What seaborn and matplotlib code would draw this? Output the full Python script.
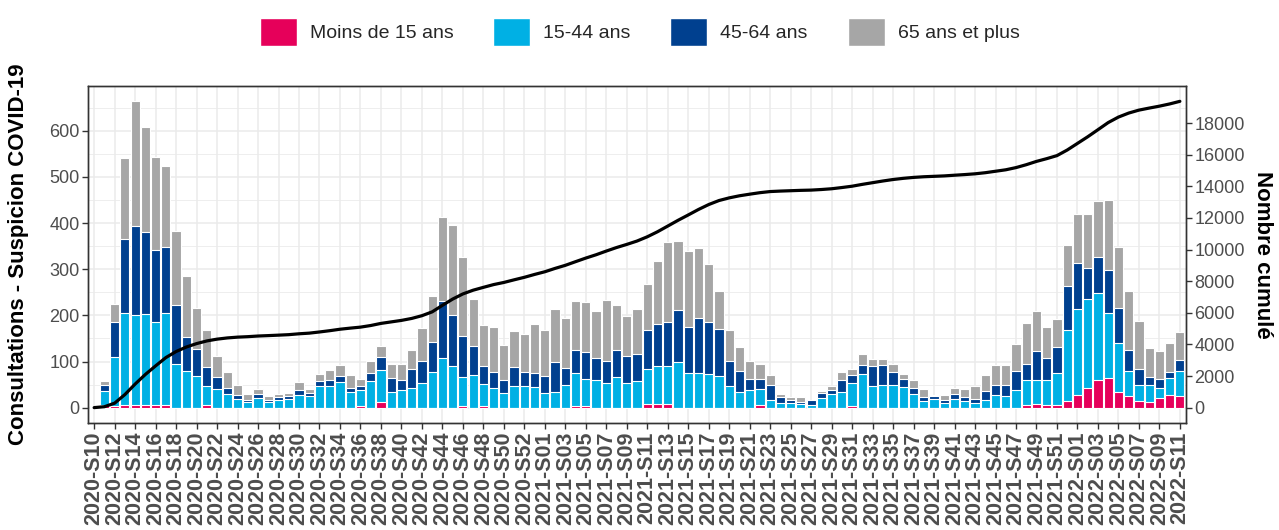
import numpy as np
import pandas as pd
import matplotlib
matplotlib.use("Agg")
import matplotlib.pyplot as plt
from matplotlib.patches import Patch
from matplotlib.ticker import MultipleLocator
import seaborn as sns

#%% data (weekly consultations by age group)
weeks = ([f"2020-S{w:02d}" for w in range(10, 54)]
         + [f"2021-S{w:02d}" for w in range(1, 53)]
         + [f"2022-S{w:02d}" for w in range(1, 12)])

moins15 = [0, 5, 4, 5, 5, 5, 5, 5, 0, 0,
           0, 5, 0, 0, 0, 0, 0, 0, 0, 0,
           0, 0, 0, 0, 0, 0, 4, 0, 12, 0,
           0, 0, 0, 0, 0, 0, 3, 0, 3, 0,
           0, 0, 0, 0, 0, 0, 0, 4, 4, 0,
           0, 0, 0, 0, 7, 7, 7, 0, 0, 0,
           0, 0, 0, 0, 0, 5, 0, 0, 0, 0,
           0, 0, 0, 0, 4, 0, 0, 0, 0, 0,
           0, 0, 0, 0, 0, 0, 0, 0, 0, 0,
           0, 5, 9, 5, 5, 14, 28, 42, 61, 65,
           33, 25, 15, 12, 22, 28, 25]

a15_44 = [2, 32, 105, 200, 196, 198, 180, 200, 95, 79,
          69, 41, 40, 30, 18, 12, 20, 12, 17, 19,
          27, 25, 46, 46, 55, 34, 35, 57, 70, 35,
          38, 42, 54, 77, 107, 90, 64, 70, 48, 42,
          31, 47, 48, 45, 31, 35, 50, 72, 58, 60,
          53, 66, 54, 58, 77, 84, 84, 100, 76, 76,
          72, 68, 47, 33, 39, 35, 17, 11, 11, 8,
          6, 21, 29, 33, 49, 72, 47, 49, 50, 44,
          30, 15, 19, 11, 18, 14, 10, 17, 27, 25,
          39, 55, 52, 54, 70, 154, 185, 193, 187, 141,
          108, 54, 35, 37, 21, 37, 54]

a45_64 = [1, 12, 76, 161, 193, 177, 156, 143, 128, 75,
          59, 43, 26, 12, 10, 4, 9, 5, 6, 6,
          12, 7, 12, 14, 14, 9, 8, 19, 27, 30,
          22, 41, 47, 65, 124, 110, 89, 63, 40, 35,
          30, 41, 30, 30, 38, 63, 37, 48, 58, 48,
          48, 60, 58, 58, 85, 90, 94, 112, 98, 119,
          113, 102, 54, 47, 24, 22, 32, 13, 6, 5,
          10, 10, 10, 26, 17, 20, 43, 43, 28, 18,
          13, 8, 6, 6, 12, 10, 8, 19, 22, 25,
          40, 35, 62, 48, 56, 95, 100, 67, 78, 92,
          76, 46, 33, 18, 20, 13, 24]

a65plus = [1, 8, 40, 176, 270, 229, 202, 175, 161, 131,
           88, 80, 47, 35, 22, 14, 12, 9, 6, 6,
           16, 9, 16, 21, 23, 27, 16, 26, 25, 30,
           35, 41, 72, 101, 182, 195, 170, 103, 89, 98,
           74, 78, 81, 107, 100, 115, 107, 107, 108, 101,
           133, 97, 86, 97, 99, 138, 175, 150, 166, 152,
           127, 83, 68, 52, 39, 33, 22, 6, 6, 10,
           0, 6, 9, 18, 14, 25, 16, 14, 17, 12,
           16, 18, 2, 10, 13, 17, 30, 34, 43, 42,
           60, 88, 86, 67, 61, 90, 106, 117, 121, 153,
           131, 128, 104, 62, 59, 62, 62]

groups = ["Moins de 15 ans", "15-44 ans", "45-64 ans", "65 ans et plus"]
colors = ["#E6005A", "#00B0E4", "#00408F", "#A6A6A6"]

df = pd.DataFrame({"semaine": weeks, groups[0]: moins15, groups[1]: a15_44,
                   groups[2]: a45_64, groups[3]: a65plus})
n = len(df)
for k in range(4):
    df[f"stack{k}"] = df[groups[:k + 1]].sum(axis=1)
total = df["stack3"]
cumul = total.cumsum()

#%% draw
sns.set_theme(style="white")
plt.rcParams["font.family"] = ["Liberation Sans", "DejaVu Sans"]

fig = plt.figure(figsize=(12.79, 5.30), dpi=100)
ax = fig.add_axes([0.0688, 0.2019, 0.8585, 0.6358])

# stacked bars: tallest layer first, then the lower ones on top
for k in range(3, -1, -1):
    sns.barplot(data=df, x="semaine", y=f"stack{k}", order=weeks, color=colors[k],
                saturation=1, width=0.9, edgecolor="white", linewidth=0.8,
                errorbar=None, ax=ax)

bar_max = total.max()
ylim = (-0.05 * bar_max, 1.05 * bar_max)
ax.set_ylim(ylim)

ax2 = ax.twinx()
ratio = cumul.max() / bar_max
sns.lineplot(x=np.arange(n), y=cumul.values, color="black", linewidth=2.3, ax=ax2)
ax2.set_ylim(ylim[0] * ratio, ylim[1] * ratio)
ax.set_xlim(-0.6, n - 0.4)

# grid
ax.set_axisbelow(True)
ax.set_yticks(range(0, 700, 100))
ax.yaxis.set_minor_locator(MultipleLocator(50))
ax.grid(True, which="major", color="#EBEBEB", linewidth=1.1)
ax.grid(True, which="minor", axis="y", color="#EBEBEB", linewidth=0.6)
ax2.grid(False)

ax.set_xticks(range(0, n, 2))
ax.set_xticklabels(weeks[::2], rotation=90, fontweight="bold", fontsize=15.5,
                   color="#4D4D4D")
ax.tick_params(axis="both", which="major", bottom=True, left=True, length=4,
               width=1, color="#333333", labelsize=13, labelcolor="#4D4D4D", pad=2)
ax.tick_params(axis="x", labelsize=15.5)
ax.tick_params(which="minor", length=0)
ax2.set_yticks(range(0, 20000, 2000))
ax2.tick_params(axis="y", right=True, length=4, width=1, color="#333333",
                labelsize=13, labelcolor="#4D4D4D", pad=2)

for a in (ax, ax2):
    for s in a.spines.values():
        s.set_color("#333333")
        s.set_linewidth(1.0)

ax.set_xlabel("")
ax.set_ylabel("Consultations - Suspicion COVID-19", fontsize=16, fontweight="bold",
              color="black")
ax.yaxis.set_label_coords(-0.054, 0.5)
ax2.set_ylabel("Nombre cumulé", rotation=270, fontsize=16, fontweight="bold",
               color="black", labelpad=20)

handles = [Patch(facecolor=c, edgecolor="white") for c in colors]
fig.legend(handles, groups, loc="center", bbox_to_anchor=(0.5, 0.94), ncol=4,
           frameon=False, fontsize=14, handlelength=1.9, handleheight=1.8,
           handletextpad=0.67, columnspacing=2.05)

fig.savefig("out.png", dpi=100)
